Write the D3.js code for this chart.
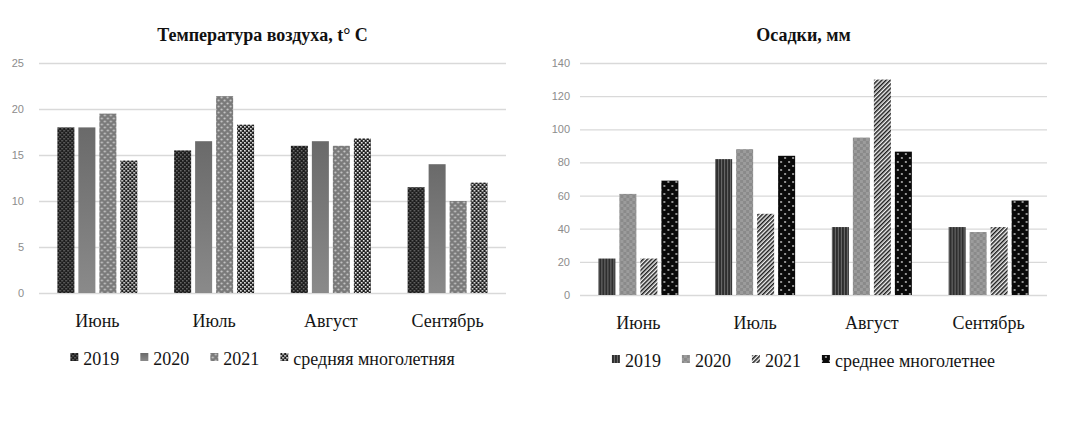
<!DOCTYPE html>
<html>
<head>
<meta charset="utf-8">
<script src="https://cdn.jsdelivr.net/npm/d3@7"></script>
<style>
  body { margin: 0; background: #fff; }
  svg { display: block; }
  .tick text { font-family: "Liberation Sans", Arial, sans-serif; font-size: 11px; fill: #8c8c8c; }
  .tick line { stroke: #d9d9d9; stroke-width: 1.3; }
</style>
</head>
<body>
<svg id="chart" width="1080" height="424"></svg>
<script>
// months on the x axis
const months = ["Июнь", "Июль", "Август", "Сентябрь"];

// air temperature, °C
const tempSeries = ["2019", "2020", "2021", "средняя многолетняя"];
const temp2019 = [18, 15.5, 16, 11.5];
const temp2020 = [18, 16.5, 16.5, 14];
const temp2021 = [19.5, 21.4, 16, 10];
const tempAvg = [14.4, 18.3, 16.8, 12];
const tempTicks = [0, 5, 10, 15, 20, 25];

// precipitation, mm
const rainSeries = ["2019", "2020", "2021", "среднее многолетнее"];
const rain2019 = [22, 82, 41, 41];
const rain2020 = [61, 88, 95, 38];
const rain2021 = [22, 49, 130, 41];
const rainAvg = [69, 84, 86.5, 57];
const rainTicks = [0, 20, 40, 60, 80, 100, 120, 140];

const serif = '"Liberation Serif", "Times New Roman", "DejaVu Serif", serif';

const svg = d3.select("#chart");
const defs = svg.append("defs");

// --- fill patterns (imitating the Excel pattern fills) ---
function pattern(id, w, h, build) {
  const p = defs.append("pattern")
    .attr("id", id)
    .attr("patternUnits", "userSpaceOnUse")
    .attr("width", w).attr("height", h);
  build(p);
}
// left: 2019 dark fine checker
pattern("tp2019", 4, 4, p => {
  p.append("rect").attr("width", 4).attr("height", 4).attr("fill", "#1c1c1c");
  p.append("rect").attr("x", 0).attr("y", 0).attr("width", 1.5).attr("height", 1.5).attr("fill", "#707070");
  p.append("rect").attr("x", 2).attr("y", 2).attr("width", 1.5).attr("height", 1.5).attr("fill", "#707070");
});
// left: 2020 gray gradient
const grad = defs.append("linearGradient").attr("id", "tp2020").attr("x1", 0).attr("y1", 0).attr("x2", 0).attr("y2", 1);
grad.append("stop").attr("offset", "0%").attr("stop-color", "#6a6a6a");
grad.append("stop").attr("offset", "100%").attr("stop-color", "#8a8a8a");
// left: 2021 gray with light dots
pattern("tp2021", 6, 6, p => {
  p.append("rect").attr("width", 6).attr("height", 6).attr("fill", "#7a7a7a");
  p.append("circle").attr("cx", 1.5).attr("cy", 1.5).attr("r", 1.1).attr("fill", "#c8c8c8");
  p.append("circle").attr("cx", 4.5).attr("cy", 4.5).attr("r", 1.1).attr("fill", "#c8c8c8");
});
// left: average black checker with white holes
pattern("tpAvg", 4, 4, p => {
  p.append("rect").attr("width", 4).attr("height", 4).attr("fill", "#1e1e1e");
  p.append("rect").attr("x", 0).attr("y", 0).attr("width", 1.6).attr("height", 1.6).attr("fill", "#f4f4f4");
  p.append("rect").attr("x", 2).attr("y", 2).attr("width", 1.6).attr("height", 1.6).attr("fill", "#f4f4f4");
});
// right: 2019 dark vertical stripes
pattern("rp2019", 3, 3, p => {
  p.append("rect").attr("width", 3).attr("height", 3).attr("fill", "#2e2e2e");
  p.append("rect").attr("x", 2).attr("width", 1).attr("height", 3).attr("fill", "#6e6e6e");
});
// right: 2020 mottled gray
pattern("rp2020", 6, 6, p => {
  p.append("rect").attr("width", 6).attr("height", 6).attr("fill", "#8a8a8a");
  p.append("rect").attr("x", 0).attr("y", 0).attr("width", 3).attr("height", 3).attr("fill", "#9c9c9c");
  p.append("rect").attr("x", 3).attr("y", 3).attr("width", 3).attr("height", 3).attr("fill", "#9c9c9c");
});
// right: 2021 diagonal hatch
pattern("rp2021", 3, 3, p => {
  p.attr("patternTransform", "rotate(45)");
  p.append("rect").attr("width", 3).attr("height", 3).attr("fill", "#f2f2f2");
  p.append("rect").attr("width", 1.5).attr("height", 3).attr("fill", "#1a1a1a");
});
// right: average black with white dots
pattern("rpAvg", 8, 8, p => {
  p.append("rect").attr("width", 8).attr("height", 8).attr("fill", "#0a0a0a");
  p.append("circle").attr("cx", 2).attr("cy", 2).attr("r", 0.9).attr("fill", "#d0d0d0");
  p.append("circle").attr("cx", 6).attr("cy", 6).attr("r", 0.9).attr("fill", "#d0d0d0");
});

function drawChart(cfg) {
  const g = svg.append("g");
  const x0 = d3.scaleBand().domain(months).range([cfg.left, cfg.right]);
  const x1 = d3.scaleBand().domain(cfg.series).range([-40, 40]).paddingInner(0.19);
  const y = d3.scaleLinear().domain([0, d3.max(cfg.ticks)]).range([cfg.bottom, cfg.top]);

  // gridlines + tick labels
  const axis = g.append("g")
    .attr("transform", `translate(${cfg.left},0)`)
    .call(d3.axisLeft(y).tickValues(cfg.ticks).tickSize(-(cfg.right - cfg.left)).tickPadding(cfg.tickPad));
  axis.select(".domain").remove();

  // bars
  const rows = months.map((m, i) => ({ month: m, vals: cfg.values.map(v => v[i]) }));
  const groups = g.selectAll(".grp").data(rows).enter().append("g")
    .attr("transform", d => `translate(${x0(d.month) + x0.bandwidth() / 2},0)`);
  groups.selectAll("rect")
    .data(d => d.vals.map((v, k) => ({ key: cfg.series[k], v: v, k: k })))
    .enter().append("rect")
    .attr("x", d => x1(d.key))
    .attr("width", x1.bandwidth())
    .attr("y", d => y(d.v))
    .attr("height", d => y(0) - y(d.v))
    .attr("fill", d => `url(#${cfg.fills[d.k]})`);

  // month labels
  g.selectAll(".month").data(months).enter().append("text")
    .attr("class", "month")
    .attr("font-family", serif).attr("font-size", 18).attr("fill", "#151515")
    .attr("x", d => x0(d) + x0.bandwidth() / 2)
    .attr("y", cfg.bottom + 34)
    .attr("text-anchor", "middle")
    .text(d => d);

  // title
  const cx = (cfg.left + cfg.right) / 2 - 10;
  g.append("text")
    .attr("font-family", serif).attr("font-size", 18).attr("font-weight", "bold").attr("fill", "#111")
    .attr("x", cx).attr("y", 41)
    .attr("text-anchor", "middle")
    .text(cfg.title);

  // legend, centred under the chart
  const leg = g.append("g").attr("font-family", serif).attr("font-size", 18).attr("fill", "#151515");
  let xpos = 0;
  cfg.series.forEach((s, k) => {
    leg.append("rect").attr("x", xpos).attr("y", -12).attr("width", 8).attr("height", 8)
      .attr("fill", `url(#${cfg.fills[k]})`);
    const t = leg.append("text").attr("x", xpos + 13).attr("y", 0).text(s);
    xpos += 13 + t.node().getComputedTextLength() + 21;
  });
  const legW = xpos - 21;
  leg.attr("transform", `translate(${cx - legW / 2},${cfg.bottom + 72})`);
}

drawChart({
  title: "Температура воздуха, t° C",
  series: tempSeries,
  values: [temp2019, temp2020, temp2021, tempAvg],
  ticks: tempTicks,
  fills: ["tp2019", "tp2020", "tp2021", "tpAvg"],
  left: 39, right: 506, top: 63, bottom: 293, tickPad: 15
});

drawChart({
  title: "Осадки, мм",
  series: rainSeries,
  values: [rain2019, rain2020, rain2021, rainAvg],
  ticks: rainTicks,
  fills: ["rp2019", "rp2020", "rp2021", "rpAvg"],
  left: 580, right: 1047, top: 63, bottom: 295, tickPad: 10
});
</script>
</body>
</html>
